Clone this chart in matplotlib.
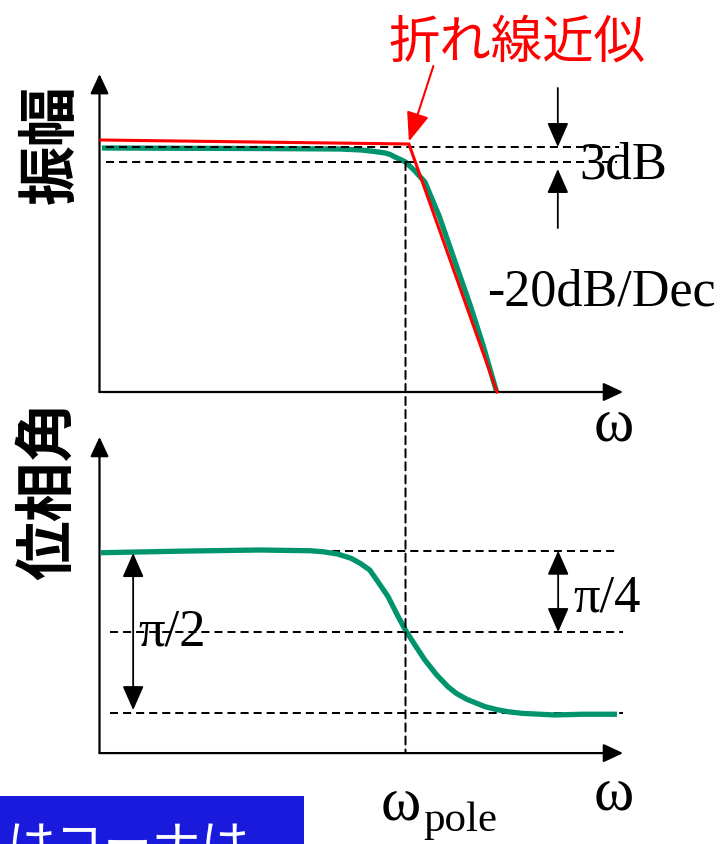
import matplotlib
matplotlib.use("Agg")
import matplotlib.pyplot as plt
from matplotlib.patches import ConnectionPatch, Rectangle

plt.rcParams['lines.scale_dashes'] = False

# ---------------- data ----------------
# x: log10(omega/omega_pole) (decades), magnitude in dB, phase in degrees
asym_x = [-8.96, 0.10, 2.69]
asym_db = [1.4, 0.6, -49.0]

mag_x = [-8.93, -4.57, -1.93, -1.30, -1.04, -0.80, -0.60, -0.45, -0.31, -0.15,
         0.00, 0.25, 0.57, 0.99, 1.46, 1.90, 2.28, 2.68]
mag_db = [-0.2, -0.3, -0.4, -0.6, -0.8, -1.0, -1.2, -1.5, -2.0, -2.5,
          -3.0, -4.6, -7.0, -13.8, -23.0, -31.6, -39.6, -49.0]

ph_x = [-8.96, -6.49, -4.31, -2.80, -2.41, -2.00, -1.60, -1.33, -1.05, -0.78,
        -0.51, -0.24, 0.01, 0.31, 0.57, 0.92, 1.25, 1.50, 1.80, 2.34, 2.70,
        3.02, 3.43, 4.38, 5.19, 6.22]
ph_deg = [-1.1, -0.2, 0.4, 0.0, -0.6, -1.8, -4.2, -7.0, -10.7, -18.0,
          -25.5, -35.6, -44.3, -53.1, -60.5, -68.8, -75.3, -79.0, -82.2, -86.3, -88.0,
          -89.1, -90.0, -90.9, -90.5, -90.5]

mag_levels = [0.0, -3.0]          # dashed reference levels (dB)
ph_levels = [0.0, -45.0, -90.0]   # dashed reference levels (deg)

title_text = "折れ線近似"
mag_label = "振幅"
ph_label = "位相角"
box_text = "はコーナは"

# ---------------- layout helpers ----------------
W, H = 722, 844
fig = plt.figure(figsize=(W / 100, H / 100), dpi=100)


def rect(l, t, r, b):
    return [l / W, (H - b) / H, (r - l) / W, (b - t) / H]


GREEN = '#00946e'
RED = '#ff0000'
DASH = (0, (5.8, 3.6))
DLW = 1.45
SERIF = 'Liberation Serif'
JP = ['Noto Sans CJK JP', 'DejaVu Sans']

ax1 = fig.add_axes(rect(99.5, 74, 623.1, 392))
ax1.set_xlim(-9, 6.4)
ax1.set_ylim(-49, 14.6)
ax2 = fig.add_axes(rect(99.5, 436.9, 623.1, 753.1))
ax2.set_xlim(-9, 6.4)
ax2.set_ylim(-112, 63)

head = dict(arrowstyle='-|>,head_length=0.6,head_width=0.28',
            mutation_scale=20, lw=1.6, color='k', shrinkA=0, shrinkB=0)
for ax in (ax1, ax2):
    ax.set_axis_off()
    ax.annotate('', xy=(1, 0), xytext=(0, 0), xycoords='axes fraction',
                textcoords='axes fraction', arrowprops=head)
    ax.annotate('', xy=(0, 1), xytext=(0, 0), xycoords='axes fraction',
                textcoords='axes fraction', arrowprops=head)

# ---------------- magnitude ----------------
ax1.plot(mag_x, mag_db, color=GREEN, lw=3.8, solid_capstyle='butt',
         solid_joinstyle='round', zorder=2, clip_on=False)
ax1.plot(asym_x, asym_db, color=RED, lw=2.2, solid_joinstyle='miter',
         zorder=4, clip_on=False)
ax1.hlines(mag_levels[0], -8.81, 6.28, colors='k', lw=DLW, linestyles=[DASH], zorder=3)
ax1.hlines(mag_levels[1], -8.81, 6.22, colors='k', lw=DLW, linestyles=[DASH], zorder=3)

small = dict(arrowstyle='-|>,head_length=0.75,head_width=0.33',
             mutation_scale=20, lw=1.3, color='k', shrinkA=0, shrinkB=0)
ax1.annotate('', xy=(4.48, mag_levels[0]), xytext=(4.48, 11.8), arrowprops=small)
ax1.annotate('', xy=(4.48, -4.4), xytext=(4.48, -16.2), arrowprops=small)
ax1.text(5.10, -6.2, '3dB', fontsize=38, family=SERIF, ha='left', va='baseline')
ax1.text(2.41, -31.6, '-20dB/Dec', fontsize=37.5, family=SERIF, ha='left', va='baseline')

ax1.annotate('', xy=(0.10, 1.1), xytext=(0.82, 16.2),
             arrowprops=dict(arrowstyle='-|>,head_length=0.9,head_width=0.35',
                             mutation_scale=20, lw=1.5, color=RED,
                             shrinkA=0, shrinkB=0),
             annotation_clip=False)
ax1.text(-0.51, 17.8, title_text, fontsize=37, color=RED, family=JP,
         ha='left', va='baseline', clip_on=False)

# ---------------- phase ----------------
ax2.plot(ph_x, ph_deg, color=GREEN, lw=3.8, solid_capstyle='butt',
         solid_joinstyle='round', zorder=3, clip_on=False)
ax2.hlines(ph_levels[0], -8.69, 6.28, colors='k', lw=DLW, linestyles=[DASH], zorder=2)
ax2.hlines(ph_levels[1], -8.69, 6.43, colors='k', lw=DLW, linestyles=[DASH], zorder=2)
ax2.hlines(ph_levels[2], -8.69, 6.43, colors='k', lw=DLW, linestyles=[DASH], zorder=2)

dbl = dict(arrowstyle='<|-|>,head_length=0.75,head_width=0.33',
           mutation_scale=20, lw=1.3, color='k', shrinkA=0, shrinkB=0)
ax2.annotate('', xy=(-8.01, -88.2), xytext=(-8.01, -1.3), arrowprops=dbl)
ax2.annotate('', xy=(4.49, ph_levels[1]), xytext=(4.49, ph_levels[0]), arrowprops=dbl)
ax2.text(-7.87, -52.7, 'π/2', fontsize=38, family=SERIF, ha='left', va='baseline')
ax2.text(4.93, -33.4, 'π/4', fontsize=38, family=SERIF, ha='left', va='baseline')

# vertical dashed line at omega_pole through both panels
cp = ConnectionPatch(xyA=(0, mag_levels[1]), coordsA=ax1.transData,
                     xyB=(0, -112), coordsB=ax2.transData,
                     color='k', lw=DLW, linestyle=DASH, zorder=1)
fig.add_artist(cp)

# ---------------- labels ----------------
fig.text(52 / W, 1 - 144 / H, mag_label, rotation=90, fontsize=43, family=JP,
         weight='bold', ha='center', va='center')
fig.text(49 / W, 1 - 490 / H, ph_label, rotation=90, fontsize=43, family=JP,
         weight='bold', ha='center', va='center')

fig.text(594 / W, 1 - 440 / H, 'ω', fontsize=44, family=SERIF, ha='left', va='baseline')
fig.text(594 / W, 1 - 810 / H, 'ω', fontsize=44, family=SERIF, ha='left', va='baseline')
fig.text(381 / W, 1 - 819 / H, 'ω', fontsize=44, family=SERIF, ha='left', va='baseline')
fig.text(423 / W, 1 - 831 / H, 'pole', fontsize=31, family=SERIF, ha='left', va='baseline')

# blue caption box (cut by the bottom edge, as in the original)
fig.add_artist(Rectangle((0, 0), 304 / W, 48 / H, transform=fig.transFigure,
                         facecolor='#1a1adc', edgecolor='none'))
fig.text(6 / W, 1 - 861 / H, box_text, fontsize=35, color='white', family=JP,
         ha='left', va='baseline')

fig.savefig('out.png', dpi=100)
